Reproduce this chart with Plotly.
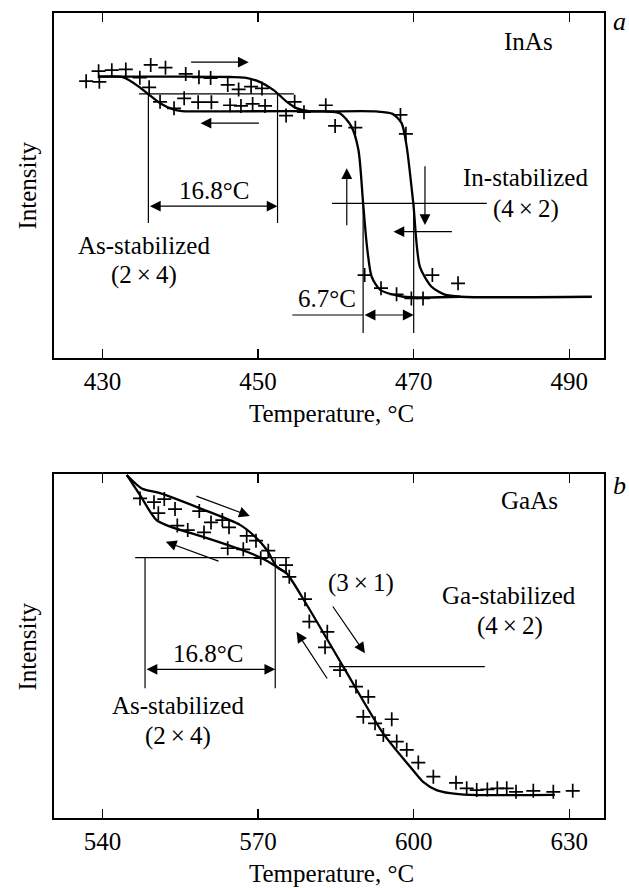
import plotly.graph_objects as go

W, H = 629, 888
FONT = "Liberation Serif"

# ---------------- Panel a : InAs ----------------
a_pts_T = [427.9, 429.5, 429.6, 431.2, 433.0, 434.8, 436.0, 436.2, 438.1, 437.4, 439.2, 440.5,
           440.7, 442.4, 442.3, 443.9, 444.0, 446.1, 447.5, 449.1, 450.5, 446.4, 447.8, 449.3,
           450.9, 454.7, 453.6, 455.9, 458.7, 459.9, 462.5, 468.3, 469.0, 463.7, 465.8, 467.8,
           469.7, 471.2, 472.4, 475.7]
a_pts_I = [80.3, 83.2, 80.1, 83.5, 83.7, 81.3, 78.5, 85.0, 84.2, 74.3, 72.4, 75.3,
           82.4, 81.4, 74.2, 81.2, 74.2, 79.2, 77.9, 78.7, 78.2, 73.3, 73.1, 73.7,
           73.1, 74.3, 70.3, 71.3, 73.3, 67.3, 66.8, 70.5, 65.0, 24.0, 20.2, 18.4,
           17.2, 17.2, 24.0, 21.6]

a_heat_T = [429.7, 440.0, 446.5, 448.3, 450.2, 452.0, 453.7, 455.0, 456.5, 458.5, 465.2, 467.3,
            468.45, 469.1, 469.95, 470.8, 472.3, 474.0, 476.0, 492.9]
a_heat_I = [81.6, 81.6, 81.5, 81.3, 80.1, 77.7, 74.3, 72.4, 71.6, 71.5, 71.5, 70.8,
            68.1, 61.3, 44.8, 26.4, 20.6, 18.3, 17.7, 17.7]
a_cool_T = [429.7, 432.7, 434.8, 435.9, 437.4, 439.1, 440.2, 442.0, 458.4, 460.5, 462.0, 462.9,
            463.5, 464.0, 464.6, 465.7, 468.7, 476.0]
a_cool_I = [81.6, 81.4, 78.5, 76.5, 73.9, 72.1, 71.6, 71.5, 71.5, 71.0, 67.1, 60.3,
            44.8, 32.2, 23.5, 19.7, 17.7, 17.7]

a_ticks = [430, 450, 470, 490]
a_range = [423.77, 494.46]

# ---------------- Panel b : GaAs ----------------
b_pts_T = [547.23, 549.93, 551.91, 550.76, 553.98, 558.66, 554.42, 556.43, 559.57, 560.92, 563.1,
           564.39, 567.8, 569.59, 564.14, 567.14, 571.96, 570.5, 575.38, 576.01, 579.04, 579.87,
           583.34, 582.9, 585.79, 588.87, 591.24, 590.28, 592.54, 595.76, 594.14, 596.72, 598.65,
           600.88, 603.78, 608.15, 610.21, 612.14, 614.19, 616.11, 617.93, 619.72, 623.05,
           626.91, 630.65]
b_pts_I = [93.0, 91.9, 92.8, 88.7, 89.9, 89.3, 85.1, 83.8, 83.1, 86.0, 86.7,
           84.6, 82.1, 80.7, 78.5, 78.2, 77.8, 75.6, 73.6, 70.2, 63.7, 57.2,
           54.2, 49.7, 43.1, 38.3, 35.3, 29.5, 27.6, 28.8, 24.2, 22.3, 19.9,
           16.2, 12.1, 10.3, 8.7, 8.2, 8.4, 8.7, 8.7, 7.7, 8.0,
           7.7, 8.0]

b_heat_T = [544.67, 547.56, 551.09, 558.8, 566.5, 569.4, 571.7, 573.6, 575.5, 579.4, 586.4,
            594.1, 599.3, 601.8, 604.4, 607.0, 610.85, 627.2]
b_heat_I = [99.8, 95.9, 94.5, 90.1, 85.3, 81.9, 78.0, 73.1, 71.2, 62.0, 44.1,
            24.7, 15.0, 10.6, 8.2, 7.3, 6.8, 6.8]
b_cool_T = [544.67, 547.2, 550.4, 553.6, 558.8, 567.8, 571.0, 573.6, 575.5]
b_cool_I = [99.8, 94.0, 86.7, 84.5, 82.1, 77.5, 75.4, 73.1, 71.2]

b_ticks = [540, 570, 600, 630]
b_range = [530.65, 636.68]

# ---------------- figure ----------------
fig = go.Figure()
curve = dict(color="black", width=2.3, shape="spline", smoothing=0.7)
mk = dict(symbol="cross-thin", size=10, line=dict(color="black", width=1.7), color="black")

fig.add_trace(go.Scatter(x=a_heat_T, y=a_heat_I, mode="lines", line=curve, xaxis="x", yaxis="y"))
fig.add_trace(go.Scatter(x=a_cool_T, y=a_cool_I, mode="lines", line=curve, xaxis="x", yaxis="y"))
fig.add_trace(go.Scatter(x=a_pts_T, y=a_pts_I, mode="markers", marker=mk, xaxis="x", yaxis="y"))
fig.add_trace(go.Scatter(x=b_heat_T, y=b_heat_I, mode="lines", line=curve, xaxis="x2", yaxis="y2"))
fig.add_trace(go.Scatter(x=b_cool_T, y=b_cool_I, mode="lines", line=curve, xaxis="x2", yaxis="y2"))
fig.add_trace(go.Scatter(x=b_pts_T, y=b_pts_I, mode="markers", marker=mk, xaxis="x2", yaxis="y2"))

shapes = []
def seg(x0, y0, x1, y1, ax="x", ay="y", w=1.2):
    shapes.append(dict(type="line", xref=ax, yref=ay, x0=x0, y0=y0, x1=x1, y1=y1,
                       line=dict(color="black", width=w)))

anns = []
def arrow(x0, y0, x1, y1, ax="x", ay="y", both=False):
    d = dict(x=x1, y=y1, ax=x0, ay=y0, xref=ax, yref=ay, axref=ax, ayref=ay, text="",
             showarrow=True, arrowhead=2, arrowsize=1.8, arrowwidth=1.2, arrowcolor="black",
             standoff=0, startstandoff=0)
    if both:
        d.update(arrowside="end+start", startarrowhead=2, startarrowsize=1.8)
    anns.append(d)

def txt(x, y, s, ax="x", ay="y", size=25, **kw):
    anns.append(dict(x=x, y=y, xref=ax, yref=ay, text=s, showarrow=False,
                     font=dict(family=FONT, size=size, color="black"),
                     xanchor="center", yanchor="middle", **kw))

# panel a guides
seg(434.7, 76.6, 454.6, 76.6)
seg(435.9, 76.6, 435.9, 39.1)
seg(452.5, 76.6, 452.5, 39.1)
arrow(435.9, 44.0, 452.5, 44.0, both=True)
seg(459.5, 44.8, 479.4, 44.8)
seg(463.5, 44.8, 463.5, 7.2)
seg(470.0, 44.8, 470.0, 7.2)
seg(454.4, 12.4, 463.5, 12.4)
arrow(463.5, 12.4, 470.0, 12.4, both=True)
arrow(441.2, 85.8, 448.8, 85.8)
arrow(450.3, 68.1, 442.6, 68.1)
arrow(461.4, 38.0, 461.4, 55.0)
arrow(471.45, 56.0, 471.45, 38.5)
arrow(475.1, 36.6, 467.4, 36.6)
txt(444.3, 48.5, "16.8°C")
txt(458.8, 17.2, "6.7°C")
txt(484.8, 91.8, "InAs")
txt(484.4, 52.3, "In-stabilized")
txt(484.4, 43.2, "(4\u2009×\u20092)")
txt(435.3, 32.7, "As-stabilized")
txt(435.3, 24.0, "(2\u2009×\u20094)")

# panel b guides
seg(546.3, 75.8, 576.1, 75.8, "x2", "y2")
seg(548.2, 75.8, 548.2, 37.8, "x2", "y2")
seg(573.3, 75.8, 573.3, 37.8, "x2", "y2")
arrow(548.2, 43.3, 573.3, 43.3, "x2", "y2", both=True)
seg(583.7, 44.1, 613.7, 44.1, "x2", "y2")
arrow(557.8, 93.8, 568.4, 87.9, "x2", "y2")
arrow(562.65, 74.6, 552.2, 80.4, "x2", "y2")
arrow(584.2, 62.0, 590.6, 48.0, "x2", "y2")
arrow(583.5, 40.2, 577.4, 54.2, "x2", "y2")
txt(560.4, 47.8, "16.8°C", "x2", "y2")
txt(554.6, 32.9, "As-stabilized", "x2", "y2")
txt(554.6, 24.0, "(2\u2009×\u20094)", "x2", "y2")
txt(589.8, 68.3, "(3\u2009×\u20091)", "x2", "y2")
txt(618.4, 64.7, "Ga-stabilized", "x2", "y2")
txt(618.6, 56.0, "(4\u2009×\u20092)", "x2", "y2")
txt(622.3, 92.3, "GaAs", "x2", "y2")

# panel letters, axis titles (positions in pixels from the top-left)
def ptxt(px, py, s, size=25, angle=0):
    anns.append(dict(x=px / W, y=1 - py / H, xref="paper", yref="paper", text=s,
                     showarrow=False, textangle=angle,
                     font=dict(family=FONT, size=size, color="black"),
                     xanchor="center", yanchor="middle"))

ptxt(619, 21, "<i>a</i>", 26)
ptxt(619, 486, "<i>b</i>", 26)
ptxt(331, 413, "Temperature, °C")
ptxt(331, 873, "Temperature, °C")
ptxt(27, 185.5, "Intensity", angle=-90)
ptxt(27, 646.5, "Intensity", angle=-90)

def xd(p0, p1):
    return [p0 / W, p1 / W]

def yd(top, bottom):
    return [1 - bottom / H, 1 - top / H]

common_x = dict(showline=True, linewidth=2, linecolor="black", mirror="ticks", ticks="inside",
                ticklen=9, tickwidth=1.5, tickcolor="black", showgrid=False, zeroline=False,
                tickfont=dict(family=FONT, size=25, color="black"), domain=xd(54, 604))
common_y = dict(showline=True, linewidth=2, linecolor="black", mirror=True, ticks="",
                showticklabels=False, showgrid=False, zeroline=False, range=[0, 100])

fig.update_layout(
    width=W, height=H, autosize=False,
    margin=dict(l=0, r=0, t=0, b=0),
    paper_bgcolor="white", plot_bgcolor="white", showlegend=False,
    hovermode=False,
    xaxis=dict(common_x, range=a_range, tickvals=a_ticks, anchor="y"),
    yaxis=dict(common_y, domain=yd(13.3, 357.7), anchor="x"),
    xaxis2=dict(common_x, range=b_range, tickvals=b_ticks, anchor="y2"),
    yaxis2=dict(common_y, domain=yd(474.3, 818.3), anchor="x2"),
    shapes=shapes, annotations=anns,
)

# remove the browser's default 8px body margin so the 629x888 figure fills the window exactly
fig.write_html("out.html",
               config={"displayModeBar": False, "staticPlot": True},
               post_script="document.body.style.margin='0px';document.body.style.overflow='hidden';")
